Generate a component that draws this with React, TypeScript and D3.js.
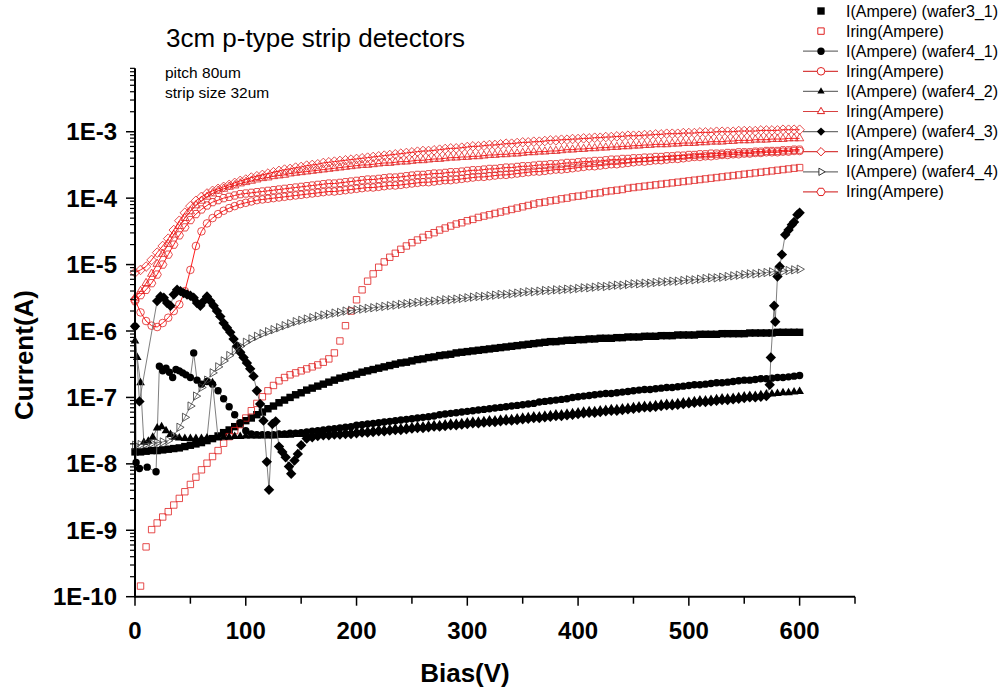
import React, { useEffect, useRef } from "react";
import * as d3 from "d3";

// Bias steps (V). Current values below are log10(I / A).
const biasGrid = d3.range(0, 601, 5);

const xTickValues = [0, 100, 200, 300, 400, 500, 600];
const yTickExponents = [-10, -9, -8, -7, -6, -5, -4, -3];
const yTickLabels = ["1E-10", "1E-9", "1E-8", "1E-7", "1E-6", "1E-5", "1E-4", "1E-3"];

// wafer3_1 I (filled squares)
const w31I = [
  -7.82, -7.82, -7.81, -7.80, -7.80, -7.79, -7.78, -7.77, -7.76, -7.74,
  -7.72, -7.70, -7.68, -7.65, -7.62, -7.58, -7.53, -7.49, -7.44, -7.40,
  -7.35, -7.31, -7.26, -7.22, -7.17, -7.13, -7.08, -7.04, -7.00, -6.96,
  -6.93, -6.89, -6.86, -6.83, -6.80, -6.77, -6.74, -6.71, -6.69, -6.67,
  -6.65, -6.62, -6.60, -6.58, -6.56, -6.54, -6.52, -6.50, -6.48, -6.47,
  -6.45, -6.43, -6.42, -6.40, -6.39, -6.37, -6.36, -6.35, -6.33, -6.32,
  -6.31, -6.30, -6.29, -6.28, -6.27, -6.26, -6.25, -6.24, -6.23, -6.22,
  -6.21, -6.20, -6.19, -6.18, -6.17, -6.16, -6.16, -6.15, -6.14, -6.14,
  -6.13, -6.13, -6.12, -6.12, -6.11, -6.11, -6.11, -6.10, -6.10, -6.09,
  -6.09, -6.09, -6.08, -6.08, -6.08, -6.07, -6.07, -6.07, -6.06, -6.06,
  -6.06, -6.06, -6.05, -6.05, -6.05, -6.05, -6.04, -6.04, -6.04, -6.04,
  -6.04, -6.03, -6.03, -6.03, -6.03, -6.03, -6.02, -6.02, -6.02, -6.02,
  -6.02,
];

// wafer3_1 Iring (open squares), from 5 V
const w31RingBias = d3.range(5, 601, 5);
const w31Ring = [
  -9.84, -9.25, -8.99, -8.89, -8.80, -8.72, -8.62, -8.52, -8.42, -8.31,
  -8.20, -8.09, -7.99, -7.89, -7.80, -7.69, -7.59, -7.50, -7.41, -7.31,
  -7.20, -7.09, -6.99, -6.90, -6.82, -6.75, -6.70, -6.66, -6.63, -6.60,
  -6.57, -6.54, -6.51, -6.47, -6.42, -6.33, -6.15, -5.92, -5.70, -5.53,
  -5.38, -5.25, -5.14, -5.04, -4.96, -4.89, -4.83, -4.77, -4.72, -4.67,
  -4.63, -4.59, -4.55, -4.52, -4.48, -4.45, -4.42, -4.39, -4.37, -4.34,
  -4.32, -4.29, -4.27, -4.25, -4.23, -4.21, -4.19, -4.17, -4.15, -4.13,
  -4.11, -4.09, -4.07, -4.06, -4.04, -4.03, -4.01, -4.00, -3.98, -3.97,
  -3.96, -3.94, -3.93, -3.92, -3.90, -3.89, -3.88, -3.87, -3.85, -3.84,
  -3.83, -3.82, -3.81, -3.80, -3.79, -3.78, -3.77, -3.76, -3.75, -3.74,
  -3.73, -3.72, -3.71, -3.70, -3.69, -3.68, -3.67, -3.66, -3.65, -3.64,
  -3.63, -3.62, -3.61, -3.60, -3.59, -3.58, -3.57, -3.56, -3.55, -3.54,
];

// wafer4_1 I (filled circles)
const w41Bias = [
  0, 1, 4, 11, 19, 22, 25, 28, 31, 34, 37, 40, 43, 46, 50, 53, 56, 60, 65, 70,
  75, 80, 85, 90, 95, 100,
].concat(d3.range(105, 601, 5));
const w41I = [
  -5.93, -7.98, -8.07, -8.05, -8.12, -6.53, -6.60, -6.56, -6.62, -6.70,
  -6.58, -6.60, -6.63, -6.66, -6.70, -6.33, -6.74, -6.80, -6.76, -6.80,
  -6.90, -7.02, -7.14, -7.26, -7.38, -7.50,
  -7.55, -7.56, -7.56, -7.56, -7.56, -7.55, -7.55, -7.54, -7.54, -7.53,
  -7.52, -7.51, -7.50, -7.49, -7.48, -7.47, -7.46, -7.45, -7.44, -7.42,
  -7.41, -7.40, -7.39, -7.38, -7.37, -7.36, -7.35, -7.34, -7.33, -7.32,
  -7.31, -7.30, -7.29, -7.28, -7.26, -7.25, -7.24, -7.23, -7.22, -7.21,
  -7.20, -7.19, -7.18, -7.17, -7.16, -7.15, -7.14, -7.13, -7.12, -7.11,
  -7.10, -7.09, -7.07, -7.06, -7.05, -7.04, -7.03, -7.02, -7.00, -6.99,
  -6.98, -6.97, -6.96, -6.95, -6.94, -6.94, -6.93, -6.92, -6.91, -6.90,
  -6.89, -6.88, -6.88, -6.87, -6.86, -6.85, -6.85, -6.84, -6.83, -6.82,
  -6.81, -6.81, -6.80, -6.79, -6.78, -6.78, -6.77, -6.76, -6.75, -6.74,
  -6.74, -6.73, -6.72, -6.72, -6.71, -6.70, -6.70, -6.69, -6.68, -6.67,
];

// wafer4_1 Iring (open circles)
const w41Ring = [
  -5.53, -5.72, -5.85, -5.92, -5.94, -5.88, -5.80, -5.70, -5.60, -5.40,
  -5.08, -4.72, -4.50, -4.38, -4.30, -4.24, -4.19, -4.15, -4.12, -4.09,
  -4.07, -4.05, -4.03, -4.02, -4.01, -4.00, -3.99, -3.98, -3.97, -3.96,
  -3.95, -3.94, -3.93, -3.92, -3.91, -3.90, -3.90, -3.89, -3.88, -3.87,
  -3.86, -3.85, -3.84, -3.84, -3.83, -3.82, -3.81, -3.81, -3.80, -3.79,
  -3.78, -3.77, -3.76, -3.76, -3.75, -3.74, -3.73, -3.73, -3.72, -3.71,
  -3.70, -3.69, -3.68, -3.68, -3.67, -3.66, -3.65, -3.65, -3.64, -3.63,
  -3.62, -3.61, -3.60, -3.60, -3.59, -3.58, -3.57, -3.57, -3.56, -3.55,
  -3.54, -3.53, -3.52, -3.52, -3.51, -3.50, -3.49, -3.49, -3.48, -3.47,
  -3.46, -3.45, -3.45, -3.44, -3.43, -3.43, -3.42, -3.41, -3.41, -3.40,
  -3.39, -3.38, -3.38, -3.37, -3.37, -3.36, -3.35, -3.35, -3.34, -3.34,
  -3.33, -3.33, -3.32, -3.32, -3.31, -3.31, -3.31, -3.30, -3.30, -3.29,
  -3.29,
];

// wafer4_2 I (filled triangles)
const w42Bias = [
  0, 2, 5, 8, 12, 16, 20, 24, 28, 32, 36, 40, 45, 50, 55, 60, 65, 70, 75, 80,
  85, 90, 95, 100,
].concat(d3.range(105, 601, 5));
const w42I = [
  -6.15, -6.40, -6.78, -7.68, -7.66, -7.60, -7.46, -7.44, -7.50, -7.56,
  -7.60, -7.61, -7.62, -7.62, -7.62, -7.62, -7.61, -6.78, -7.61, -7.60,
  -7.60, -7.59, -7.59, -7.58,
  -7.58, -7.58, -7.58, -7.58, -7.58, -7.57, -7.57, -7.57, -7.56, -7.56,
  -7.56, -7.55, -7.55, -7.54, -7.54, -7.53, -7.53, -7.52, -7.52, -7.51,
  -7.50, -7.50, -7.49, -7.48, -7.48, -7.47, -7.46, -7.46, -7.45, -7.44,
  -7.43, -7.43, -7.42, -7.41, -7.41, -7.40, -7.39, -7.39, -7.38, -7.37,
  -7.36, -7.36, -7.35, -7.34, -7.34, -7.33, -7.32, -7.32, -7.31, -7.30,
  -7.29, -7.28, -7.28, -7.27, -7.26, -7.25, -7.25, -7.24, -7.23, -7.22,
  -7.21, -7.20, -7.20, -7.19, -7.18, -7.17, -7.17, -7.16, -7.15, -7.14,
  -7.13, -7.12, -7.12, -7.11, -7.10, -7.09, -7.09, -7.08, -7.07, -7.06,
  -7.05, -7.04, -7.04, -7.03, -7.02, -7.01, -7.01, -7.00, -6.99, -6.98,
  -6.97, -6.97, -6.96, -6.95, -6.95, -6.94, -6.93, -6.93, -6.92, -6.91,
];

// wafer4_2 Iring (open triangles)
const w42Ring = [
  -5.50, -5.40, -5.28, -5.14, -4.99, -4.84, -4.69, -4.55, -4.42, -4.30,
  -4.20, -4.11, -4.04, -3.98, -3.93, -3.89, -3.86, -3.83, -3.81, -3.78,
  -3.76, -3.74, -3.72, -3.70, -3.69, -3.67, -3.66, -3.65, -3.63, -3.62,
  -3.61, -3.60, -3.59, -3.58, -3.57, -3.56, -3.55, -3.54, -3.53, -3.52,
  -3.51, -3.50, -3.50, -3.49, -3.48, -3.47, -3.47, -3.46, -3.45, -3.45,
  -3.44, -3.43, -3.43, -3.42, -3.41, -3.41, -3.40, -3.39, -3.39, -3.38,
  -3.38, -3.37, -3.37, -3.36, -3.35, -3.35, -3.34, -3.34, -3.33, -3.33,
  -3.32, -3.31, -3.31, -3.30, -3.30, -3.29, -3.29, -3.28, -3.27, -3.27,
  -3.26, -3.26, -3.25, -3.25, -3.24, -3.24, -3.23, -3.23, -3.22, -3.22,
  -3.21, -3.21, -3.20, -3.20, -3.19, -3.19, -3.19, -3.18, -3.18, -3.17,
  -3.17, -3.17, -3.16, -3.16, -3.15, -3.15, -3.15, -3.14, -3.14, -3.13,
  -3.13, -3.13, -3.12, -3.12, -3.12, -3.11, -3.11, -3.11, -3.10, -3.10,
  -3.10,
];

// wafer4_3 I (filled diamonds)
const w43Bias = [
  0, 4, 20, 23, 26, 29, 32, 35, 38, 41, 44, 47, 50, 53, 56, 59, 62, 65, 68, 71,
  74, 77, 80, 83, 86, 89, 92, 95, 98, 101, 104, 107, 110, 113, 116, 119, 121,
  124, 127, 130, 133, 136, 139, 141, 144, 147, 150, 155, 160,
]
  .concat(d3.range(165, 571, 5))
  .concat([573, 574, 577, 578, 580, 582, 584, 587, 590, 593, 595, 598, 600]);
const w43I = [
  -5.93, -7.06, -5.55, -5.48, -5.50, -5.58, -5.62, -5.45, -5.38, -5.40,
  -5.43, -5.45, -5.47, -5.50, -5.58, -5.62, -5.55, -5.48, -5.55, -5.62,
  -5.70, -5.78, -5.88, -5.95, -6.02, -6.12, -6.23, -6.32, -6.40, -6.48,
  -6.57, -6.68, -6.90, -7.10, -7.35, -7.97, -8.39, -7.40, -7.36, -7.74,
  -7.82, -7.90, -8.04, -8.15, -7.95, -7.85, -7.72, -7.62, -7.60,
  -7.58, -7.57, -7.57, -7.56, -7.56, -7.55, -7.55, -7.54, -7.53, -7.53,
  -7.52, -7.51, -7.51, -7.50, -7.49, -7.49, -7.48, -7.47, -7.46, -7.46,
  -7.45, -7.44, -7.44, -7.43, -7.42, -7.42, -7.41, -7.40, -7.39, -7.39,
  -7.38, -7.37, -7.37, -7.36, -7.35, -7.35, -7.34, -7.33, -7.32, -7.31,
  -7.31, -7.30, -7.29, -7.28, -7.28, -7.27, -7.26, -7.25, -7.24, -7.23,
  -7.23, -7.22, -7.21, -7.20, -7.20, -7.19, -7.18, -7.17, -7.16, -7.15,
  -7.15, -7.14, -7.13, -7.12, -7.12, -7.11, -7.10, -7.09, -7.08, -7.07,
  -7.07, -7.06, -7.05, -7.04, -7.04, -7.03, -7.02, -7.01, -7.00, -7.00,
  -6.99, -6.98,
  -6.81, -6.40, -5.62, -5.86, -5.18, -5.03, -4.85, -4.55, -4.48, -4.40,
  -4.36, -4.25, -4.22,
];

// wafer4_3 Iring (open diamonds)
const w43Ring = [
  -5.12, -5.08, -5.03, -4.93, -4.82, -4.72, -4.61, -4.48, -4.34, -4.22,
  -4.12, -4.04, -3.98, -3.93, -3.89, -3.86, -3.83, -3.80, -3.77, -3.74,
  -3.72, -3.69, -3.67, -3.65, -3.63, -3.61, -3.59, -3.57, -3.56, -3.54,
  -3.53, -3.51, -3.50, -3.49, -3.47, -3.46, -3.45, -3.44, -3.43, -3.42,
  -3.41, -3.40, -3.39, -3.38, -3.37, -3.36, -3.35, -3.34, -3.33, -3.32,
  -3.31, -3.30, -3.29, -3.29, -3.28, -3.27, -3.26, -3.25, -3.25, -3.24,
  -3.23, -3.22, -3.22, -3.21, -3.20, -3.20, -3.19, -3.18, -3.18, -3.17,
  -3.16, -3.16, -3.15, -3.15, -3.14, -3.13, -3.13, -3.12, -3.12, -3.11,
  -3.11, -3.10, -3.10, -3.09, -3.09, -3.08, -3.08, -3.07, -3.07, -3.06,
  -3.06, -3.06, -3.05, -3.05, -3.04, -3.04, -3.03, -3.03, -3.03, -3.02,
  -3.02, -3.02, -3.01, -3.01, -3.01, -3.00, -3.00, -3.00, -3.00, -2.99,
  -2.99, -2.99, -2.99, -2.98, -2.98, -2.98, -2.98, -2.97, -2.97, -2.97,
  -2.97,
];

// wafer4_4 I (open right triangles)
const w44I = [
  -7.72, -7.71, -7.70, -7.69, -7.68, -7.67, -7.65, -7.58, -7.45, -7.30,
  -7.13, -6.98, -6.85, -6.74, -6.63, -6.54, -6.45, -6.37, -6.30, -6.23,
  -6.17, -6.12, -6.08, -6.04, -6.01, -5.98, -5.95, -5.92, -5.89, -5.86,
  -5.84, -5.82, -5.80, -5.78, -5.76, -5.75, -5.73, -5.72, -5.70, -5.69,
  -5.68, -5.67, -5.66, -5.65, -5.64, -5.63, -5.62, -5.61, -5.60, -5.59,
  -5.58, -5.57, -5.56, -5.56, -5.55, -5.54, -5.53, -5.53, -5.52, -5.51,
  -5.50, -5.49, -5.48, -5.48, -5.47, -5.46, -5.45, -5.45, -5.44, -5.43,
  -5.42, -5.41, -5.41, -5.40, -5.39, -5.39, -5.38, -5.38, -5.37, -5.37,
  -5.36, -5.35, -5.35, -5.34, -5.33, -5.33, -5.32, -5.31, -5.31, -5.30,
  -5.29, -5.29, -5.28, -5.28, -5.27, -5.26, -5.26, -5.25, -5.25, -5.24,
  -5.23, -5.23, -5.22, -5.21, -5.20, -5.20, -5.19, -5.18, -5.17, -5.16,
  -5.15, -5.14, -5.14, -5.13, -5.12, -5.11, -5.10, -5.10, -5.09, -5.08,
  -5.07,
];

// wafer4_4 Iring (open hexagons)
const w44Ring = [
  -5.55, -5.46, -5.38, -5.28, -5.15, -5.00, -4.85, -4.70, -4.56, -4.44,
  -4.33, -4.24, -4.17, -4.11, -4.06, -4.03, -4.00, -3.98, -3.96, -3.94,
  -3.93, -3.92, -3.91, -3.90, -3.89, -3.88, -3.87, -3.86, -3.85, -3.84,
  -3.83, -3.82, -3.81, -3.80, -3.79, -3.78, -3.78, -3.77, -3.76, -3.75,
  -3.74, -3.73, -3.72, -3.72, -3.71, -3.70, -3.69, -3.69, -3.68, -3.67,
  -3.66, -3.65, -3.65, -3.64, -3.63, -3.63, -3.62, -3.61, -3.61, -3.60,
  -3.59, -3.58, -3.58, -3.57, -3.56, -3.56, -3.55, -3.54, -3.54, -3.53,
  -3.52, -3.52, -3.51, -3.50, -3.50, -3.49, -3.49, -3.48, -3.47, -3.47,
  -3.46, -3.45, -3.45, -3.44, -3.44, -3.43, -3.42, -3.42, -3.41, -3.41,
  -3.40, -3.40, -3.39, -3.39, -3.38, -3.38, -3.37, -3.37, -3.36, -3.36,
  -3.35, -3.35, -3.34, -3.34, -3.33, -3.33, -3.33, -3.32, -3.32, -3.31,
  -3.31, -3.31, -3.30, -3.30, -3.29, -3.29, -3.29, -3.28, -3.28, -3.27,
  -3.27,
];

const RED = "#e02020";
const LINE_RED = "#ff0000";
const LINE_GRAY = "#707070";

const series = [
  { name: "I(Ampere) (wafer3_1)", bias: biasGrid, logI: w31I, shape: "square", r: 3.7, filled: true, color: "#000", line: null },
  { name: "Iring(Ampere)", bias: w31RingBias, logI: w31Ring, shape: "square", r: 3.2, filled: false, color: RED, line: null },
  { name: "I(Ampere) (wafer4_1)", bias: w41Bias, logI: w41I, shape: "circle", r: 3.7, filled: true, color: "#000", line: LINE_GRAY },
  { name: "Iring(Ampere)", bias: biasGrid, logI: w41Ring, shape: "circle", r: 3.8, filled: false, color: RED, line: LINE_RED },
  { name: "I(Ampere) (wafer4_2)", bias: w42Bias, logI: w42I, shape: "triangle", r: 5, filled: true, color: "#000", line: LINE_GRAY },
  { name: "Iring(Ampere)", bias: biasGrid, logI: w42Ring, shape: "triangle", r: 4.8, filled: false, color: RED, line: LINE_RED },
  { name: "I(Ampere) (wafer4_3)", bias: w43Bias, logI: w43I, shape: "diamond", r: 5.2, filled: true, color: "#000", line: LINE_GRAY },
  { name: "Iring(Ampere)", bias: biasGrid, logI: w43Ring, shape: "diamond", r: 4.8, filled: false, color: RED, line: LINE_RED },
  { name: "I(Ampere) (wafer4_4)", bias: biasGrid, logI: w44I, shape: "triangleRight", r: 4.8, filled: false, color: "#333", line: LINE_GRAY },
  { name: "Iring(Ampere)", bias: biasGrid, logI: w44Ring, shape: "hexagon", r: 4.2, filled: false, color: RED, line: LINE_RED },
];

function markerPath(shape: string, r: number) {
  switch (shape) {
    case "square":
      return `M${-r},${-r}H${r}V${r}H${-r}Z`;
    case "circle":
      return `M${r},0A${r},${r} 0 1,1 ${-r},0A${r},${r} 0 1,1 ${r},0Z`;
    case "triangle":
      return `M0,${-r}L${r * 0.866},${r * 0.5}L${-r * 0.866},${r * 0.5}Z`;
    case "diamond":
      return `M0,${-r}L${r},0L0,${r}L${-r},0Z`;
    case "triangleRight":
      return `M${r},0L${-r * 0.5},${-r * 0.866}L${-r * 0.5},${r * 0.866}Z`;
    default: {
      const pts = d3.range(6).map(i => [r * Math.cos((i * Math.PI) / 3), r * Math.sin((i * Math.PI) / 3)]);
      return "M" + pts.map(p => p.join(",")).join("L") + "Z";
    }
  }
}

const FONT = "'Liberation Sans', Arial, sans-serif";

function App() {
  const chartRef = useRef<SVGSVGElement>(null);

  useEffect(() => {
    const svg = d3.select(chartRef.current);
    svg.selectAll("*").remove();

    const x = d3.scaleLinear().domain([0, 650]).range([135, 855]);
    const y = d3.scaleLog().domain([1e-10, 1e-2]).range([596.7, 65.3]);
    const y0 = y(1e-10);

    // series: line first, then markers, in plot order
    const plot = svg.append("g");
    series.forEach(s => {
      const pts = s.bias.map((v, i) => [x(v), y(Math.pow(10, s.logI[i]))]);
      const g = plot.append("g");
      if (s.line) {
        g.append("path")
          .attr("d", d3.line()(pts as [number, number][]))
          .attr("fill", "none")
          .attr("stroke", s.line)
          .attr("stroke-width", 0.9);
      }
      g.selectAll("path.m")
        .data(pts)
        .join("path")
        .attr("class", "m")
        .attr("transform", d => `translate(${d[0]},${d[1]})`)
        .attr("d", markerPath(s.shape, s.r))
        .attr("fill", s.filled ? s.color : "none")
        .attr("stroke", s.filled ? "none" : s.color)
        .attr("stroke-width", 0.8);
    });

    // axes
    const axes = svg.append("g").attr("stroke", "#000");
    axes.append("line").attr("x1", x(0)).attr("x2", x(650)).attr("y1", y0).attr("y2", y0).attr("stroke-width", 2);
    axes.append("line").attr("x1", x(0)).attr("x2", x(0)).attr("y1", y0 + 1).attr("y2", y(9e-3)).attr("stroke-width", 2);

    d3.range(0, 651, 50).forEach(v => {
      axes.append("line")
        .attr("x1", x(v)).attr("x2", x(v))
        .attr("y1", y0).attr("y2", y0 + (v % 100 === 0 ? 9 : 7))
        .attr("stroke-width", 1.5);
    });
    yTickExponents.forEach(k => {
      axes.append("line")
        .attr("x1", x(0) - 9).attr("x2", x(0))
        .attr("y1", y(Math.pow(10, k))).attr("y2", y(Math.pow(10, k)))
        .attr("stroke-width", 1.5);
      d3.range(2, 10).forEach(m => {
        const yy = y(m * Math.pow(10, k));
        axes.append("line").attr("x1", x(0) - 5).attr("x2", x(0)).attr("y1", yy).attr("y2", yy).attr("stroke-width", 1.2);
      });
    });

    const txt = svg.append("g").attr("font-family", FONT).attr("fill", "#000");
    xTickValues.forEach(v => {
      txt.append("text").attr("x", x(v)).attr("y", 639).attr("text-anchor", "middle")
        .attr("font-size", 24).attr("font-weight", "bold").text(v);
    });
    yTickExponents.forEach((k, i) => {
      txt.append("text").attr("x", 117).attr("y", y(Math.pow(10, k)) + 8.5).attr("text-anchor", "end")
        .attr("font-size", 24).attr("font-weight", "bold").text(yTickLabels[i]);
    });
    txt.append("text").attr("x", 465).attr("y", 682).attr("text-anchor", "middle")
      .attr("font-size", 26).attr("font-weight", "bold").text("Bias(V)");
    txt.append("text").attr("transform", "translate(33,355) rotate(-90)").attr("text-anchor", "middle")
      .attr("font-size", 26).attr("font-weight", "bold").text("Current(A)");
    txt.append("text").attr("x", 166).attr("y", 47).attr("font-size", 26).text("3cm p-type strip detectors");
    txt.append("text").attr("x", 165).attr("y", 78).attr("font-size", 15.5).text("pitch 80um");
    txt.append("text").attr("x", 165).attr("y", 98).attr("font-size", 15.5).text("strip size 32um");

    // legend
    const legend = svg.append("g");
    series.forEach((s, i) => {
      const ly = 11 + i * 20.1;
      if (s.line) {
        legend.append("line").attr("x1", 803).attr("x2", 838).attr("y1", ly).attr("y2", ly)
          .attr("stroke", s.line === LINE_RED ? "#d84040" : "#707070").attr("stroke-width", 1.2);
      }
      legend.append("path")
        .attr("transform", `translate(821,${ly})`)
        .attr("d", markerPath(s.shape, Math.min(s.r, 4.2)))
        .attr("fill", s.filled ? s.color : "#fff")
        .attr("stroke", s.filled ? "none" : s.color)
        .attr("stroke-width", 1);
      legend.append("text").attr("x", 846).attr("y", ly + 5.5)
        .attr("font-family", FONT).attr("font-size", 16).text(s.name);
    });
  }, []);

  return (
    <svg
      ref={chartRef}
      width={1003}
      height={691}
      style={{ position: "absolute", left: 0, top: 0, background: "#fff" }}
    />
  );
}

export default App;
